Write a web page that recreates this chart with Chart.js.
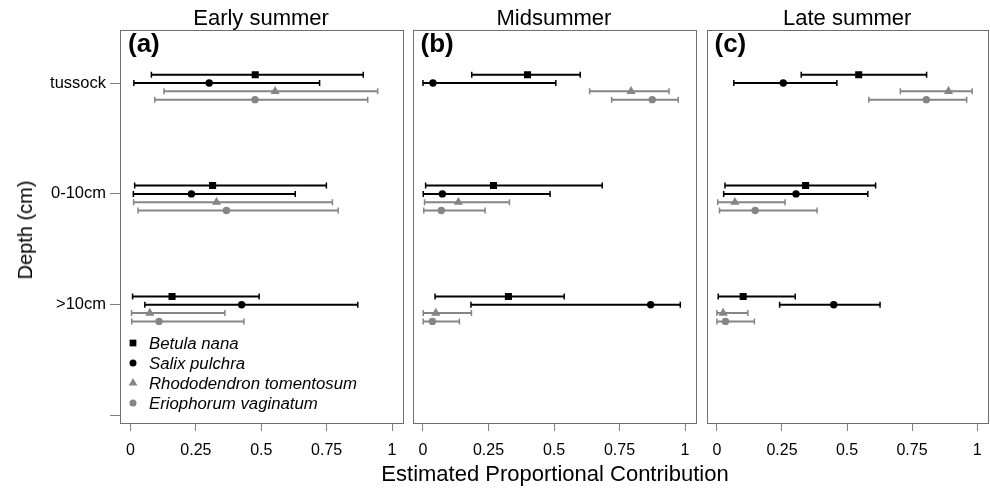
<!DOCTYPE html>
<html>
<head>
<meta charset="utf-8">
<script src="https://cdn.jsdelivr.net/npm/chart.js@4.4.1/dist/chart.umd.min.js"></script>
<style>
    body { margin: 0; background: #fff; font-family: "Liberation Sans", Arial, sans-serif; }
    #wrap { position: relative; width: 990px; height: 491px; overflow: hidden; }
    .panel { position: absolute; top: 0; height: 491px; }
    .txt { position: absolute; color: #000; white-space: nowrap; line-height: 1; }
</style>
</head>
<body>
<div id="wrap">
    <div class="panel" style="left:0;width:408px"><canvas id="panel-0" width="408" height="491"></canvas></div>
    <div class="panel" style="left:407px;width:294px"><canvas id="panel-1" width="294" height="491"></canvas></div>
    <div class="panel" style="left:701px;width:292px"><canvas id="panel-2" width="292" height="491"></canvas></div>

    <div class="txt" id="title-0" style="top:7px;font-size:22px"></div>
    <div class="txt" id="title-1" style="top:7px;font-size:22px"></div>
    <div class="txt" id="title-2" style="top:7px;font-size:22px"></div>
    <div class="txt" id="x-title" style="top:463px;left:0;width:1110px;text-align:center;font-size:22px">Estimated Proportional Contribution</div>
    <div class="txt" id="y-title" style="left:25px;top:230px;font-size:20px;transform:translate(-50%,-50%) rotate(-90deg)">Depth (cm)</div>
</div>
<script>
const seasons = ['Early summer', 'Midsummer', 'Late summer'];
const panelTags = ['(a)', '(b)', '(c)'];
const depths = ['tussock', '0-10cm', '>10cm'];
const species = ['Betula nana', 'Salix pulchra', 'Rhododendron tomentosum', 'Eriophorum vaginatum'];
const xTicks = [0, 0.25, 0.5, 0.75, 1];
const xTickLabels = ['0', '0.25', '0.5', '0.75', '1'];

// rows = species, columns = depth (tussock, 0-10cm, >10cm)
const earlyMean = [[0.477, 0.314, 0.159], [0.301, 0.233, 0.425], [0.553, 0.329, 0.074], [0.476, 0.367, 0.109]];
const earlyLow  = [[0.080, 0.016, 0.008], [0.013, 0.011, 0.055], [0.128, 0.012, 0.004], [0.093, 0.029, 0.005]];
const earlyHigh = [[0.890, 0.749, 0.492], [0.723, 0.630, 0.869], [0.945, 0.772, 0.361], [0.907, 0.794, 0.434]];

const midMean = [[0.399, 0.269, 0.326], [0.038, 0.074, 0.869], [0.794, 0.135, 0.049], [0.875, 0.070, 0.036]];
const midLow  = [[0.186, 0.010, 0.046], [0.000, 0.001, 0.183], [0.636, 0.006, 0.001], [0.720, 0.003, 0.001]];
const midHigh = [[0.600, 0.684, 0.539], [0.507, 0.485, 0.982], [0.939, 0.330, 0.185], [0.974, 0.237, 0.139]];

const lateMean = [[0.545, 0.341, 0.101], [0.255, 0.304, 0.449], [0.890, 0.069, 0.024], [0.805, 0.147, 0.033]];
const lateLow  = [[0.324, 0.031, 0.005], [0.065, 0.026, 0.241], [0.705, 0.003, 0.000], [0.584, 0.010, 0.000]];
const lateHigh = [[0.806, 0.610, 0.301], [0.461, 0.580, 0.627], [0.981, 0.262, 0.119], [0.960, 0.385, 0.144]];

const FONT = '"Liberation Sans", Arial, sans-serif';
const GREY = '#858585';
const speciesColor = ['#000000', '#000000', GREY, GREY];
const speciesShape = ['rect', 'circle', 'triangle', 'circle'];
const speciesRadius = [5, 3.7, 5.3, 3.7];
const speciesShift = [0.075, 0, -0.075, -0.15]; // vertical dodge within a depth row

const depthPos = k => depths.length - k; // tussock on top

function buildDatasets(mean, low, high) {
    const sets = [];
    species.forEach((sp, s) => {
        const c = speciesColor[s];
        depths.forEach((d, k) => {
            const y = depthPos(k) + speciesShift[s];
            sets.push({
                data: [{ x: low[s][k], y }, { x: high[s][k], y }],
                showLine: true,
                borderColor: c,
                borderWidth: 2,
                pointStyle: 'line',
                pointRotation: 90,
                pointRadius: 3,
                pointBorderColor: c,
                pointBorderWidth: 1.5,
                pointBackgroundColor: c,
                order: 1
            });
        });
    });
    species.forEach((sp, s) => {
        sets.push({
            label: sp,
            data: depths.map((d, k) => ({ x: mean[s][k], y: depthPos(k) + speciesShift[s] })),
            showLine: false,
            pointStyle: speciesShape[s],
            pointRadius: speciesRadius[s],
            pointBackgroundColor: speciesColor[s],
            pointBorderColor: speciesColor[s],
            pointBorderWidth: 0,
            order: 0
        });
    });
    return sets;
}

// box round the plot area plus the (a)/(b)/(c) tag
const boxPlugin = {
    id: 'box',
    afterDraw(chart, args, opts) {
        const { ctx, chartArea: a } = chart;
        ctx.save();
        ctx.strokeStyle = '#6f6f6f';
        ctx.lineWidth = 1;
        ctx.strokeRect(Math.round(a.left) + 0.5, Math.round(a.top) + 0.5,
            Math.round(a.right - a.left), Math.round(a.bottom - a.top));
        ctx.fillStyle = '#000';
        ctx.font = 'bold 26px ' + FONT;
        ctx.textBaseline = 'alphabetic';
        ctx.fillText(opts.tag, a.left + 8, a.top + 22);
        ctx.restore();
    }
};

const legendPlugin = {
    id: 'innerLegend',
    afterDraw(chart, args, opts) {
        if (!opts.show) return;
        const { ctx, chartArea: a } = chart;
        ctx.save();
        species.forEach((sp, s) => {
            const y = a.bottom - 80 + s * 20;
            const x = a.left + 13;
            ctx.fillStyle = speciesColor[s];
            ctx.strokeStyle = speciesColor[s];
            ctx.lineWidth = 0;
            Chart.helpers.drawPoint(ctx, { pointStyle: speciesShape[s], radius: speciesRadius[s] * 0.95, rotation: 0, borderWidth: 0 }, x, y);
            ctx.fillStyle = '#000';
            ctx.font = 'italic 16.8px ' + FONT;
            ctx.textBaseline = 'middle';
            ctx.fillText(sp, a.left + 29, y + 1);
        });
        ctx.restore();
    }
};

function makePanel(i, mean, low, high) {
    const first = i === 0;
    const ctx = document.getElementById('panel-' + i).getContext('2d');
    return new Chart(ctx, {
        type: 'scatter',
        data: { datasets: buildDatasets(mean, low, high) },
        options: {
            responsive: false,
            animation: false,
            layout: { padding: { top: 30, right: 0, bottom: 0, left: 0 } },
            plugins: {
                legend: { display: false },
                tooltip: { enabled: false },
                box: { tag: panelTags[i] },
                innerLegend: { show: first }
            },
            scales: {
                x: {
                    type: 'linear',
                    min: -0.04,
                    max: 1.04,
                    afterBuildTicks: s => { s.ticks = xTicks.map(v => ({ value: v })); },
                    afterFit: s => { s.height = 68; },
                    ticks: {
                        autoSkip: false,
                        maxRotation: 0,
                        padding: 10,
                        color: '#000',
                        font: { family: FONT, size: 16 },
                        callback: (v, idx) => xTickLabels[idx]
                    },
                    grid: { drawOnChartArea: false, tickLength: 8, tickColor: '#808080', tickWidth: 1 },
                    border: { display: false }
                },
                y: {
                    type: 'linear',
                    display: first,
                    min: -0.066,
                    max: 3.478,
                    afterBuildTicks: s => { s.ticks = [0, 1, 2, 3].map(v => ({ value: v })); },
                    afterFit: s => { s.width = first ? 120 : 0; },
                    ticks: {
                        autoSkip: false,
                        padding: 4,
                        color: '#000',
                        font: { family: FONT, size: 16.5 },
                        callback: v => (v >= 1 ? depths[depths.length - v] : '')
                    },
                    grid: { drawOnChartArea: false, tickLength: 10, tickColor: '#808080', tickWidth: 1 },
                    border: { display: false }
                }
            }
        },
        plugins: [boxPlugin, legendPlugin]
    });
}

const charts = [
    makePanel(0, earlyMean, earlyLow, earlyHigh),
    makePanel(1, midMean, midLow, midHigh),
    makePanel(2, lateMean, lateLow, lateHigh)
];

// centre each season title over its plot box
charts.forEach((ch, i) => {
    const el = document.getElementById('title-' + i);
    el.textContent = seasons[i];
    const canvasLeft = ch.canvas.parentElement.offsetLeft;
    const mid = canvasLeft + (ch.chartArea.left + ch.chartArea.right) / 2;
    el.style.left = (mid - el.offsetWidth / 2) + 'px';
});
</script>
</body>
</html>
